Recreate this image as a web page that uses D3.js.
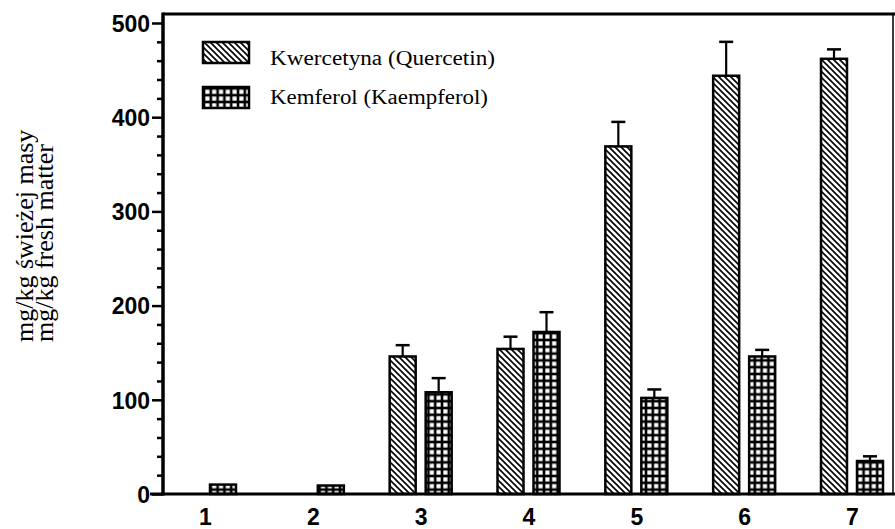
<!DOCTYPE html>
<html><head><meta charset="utf-8">
<script src="https://cdn.jsdelivr.net/npm/d3@7"></script>
<style>body{margin:0;background:#fff}svg{display:block}</style>
</head><body>
<svg id="c" width="895" height="529"></svg>
<script>
const categories = ["1","2","3","4","5","6","7"];
const quercetin = [0, 0, 146, 154, 369, 444, 462];
const quercetinErr = [0, 0, 12, 13, 26, 36, 10];
const kaempferol = [10, 9, 108, 172, 102, 146, 35];
const kaempferolErr = [0, 0, 15, 21, 9, 7, 5];
const yTicks = [0, 100, 200, 300, 400, 500];
const seriesNames = ["Kwercetyna (Quercetin)", "Kemferol (Kaempferol)"];
const yLabelLines = ["mg/kg świeżej masy", "mg/kg fresh matter"];

(function(){
const svg = d3.select("#c");
const defs = svg.append("defs");
const ph = defs.append("pattern").attr("id","hatch").attr("patternUnits","userSpaceOnUse")
  .attr("width",6).attr("height",6);
ph.append("rect").attr("width",6).attr("height",6).attr("fill","#fff");
ph.append("path").attr("d","M-1,-1 L7,7 M-4,2 L2,8 M4,-2 L10,4").attr("stroke","#000").attr("stroke-width",1.6);
const g = 6.8;
const pg = defs.append("pattern").attr("id","grid").attr("patternUnits","userSpaceOnUse")
  .attr("width",g).attr("height",g);
pg.append("rect").attr("width",g).attr("height",g).attr("fill","#000");
pg.append("rect").attr("x",1.3).attr("y",1.3).attr("width",g-2.6).attr("height",g-2.6).attr("fill","#fff");

const pLeft = 163, pRight = 893, pTop = 14, y0 = 494;
const y = d3.scaleLinear().domain([0,500]).range([y0, 23]);
const x = d3.scalePoint().domain(categories).range([205, 852]);
const barW = 26, gap = 5;

svg.append("line").attr("x1",pLeft).attr("x2",895).attr("y1",pTop).attr("y2",pTop).attr("stroke","#000").attr("stroke-width",3);
svg.append("line").attr("x1",pRight).attr("x2",pRight).attr("y1",pTop).attr("y2",y0).attr("stroke","#000").attr("stroke-width",1.5);

function drawSeries(vals, errs, fill, off) {
  const gg = svg.append("g");
  categories.forEach((c,i) => {
    const v = vals[i];
    if (v <= 0) return;
    const bx = x(c) + off;
    if (errs[i] > 0) {
      const cx = bx + barW/2;
      gg.append("line").attr("x1",cx).attr("x2",cx).attr("y1",y(v)).attr("y2",y(v+errs[i])).attr("stroke","#000").attr("stroke-width",2.2);
      gg.append("line").attr("x1",cx-7).attr("x2",cx+7).attr("y1",y(v+errs[i])).attr("y2",y(v+errs[i])).attr("stroke","#000").attr("stroke-width",2.5);
    }
    gg.append("rect").attr("x",bx).attr("y",y(v)).attr("width",barW).attr("height",y0-y(v))
      .attr("fill",fill).attr("stroke","#000").attr("stroke-width",2.5);
  });
}
drawSeries(quercetin, quercetinErr, "url(#hatch)", -gap-barW);
drawSeries(kaempferol, kaempferolErr, "url(#grid)", gap);

const yAxis = svg.append("g").attr("transform",`translate(${pLeft},0)`)
  .call(d3.axisLeft(y).tickValues(yTicks).tickSize(11).tickPadding(2).tickFormat(d3.format("d")));
yAxis.select(".domain").remove();
yAxis.selectAll(".tick line").attr("stroke-width",2.5);
yAxis.selectAll(".tick text").attr("font-family","'Liberation Sans',Arial,sans-serif").attr("font-weight","bold").attr("font-size",23).attr("fill","#000").attr("dy","0.36em");
const minor = d3.range(0,501,20).filter(v => v % 100 !== 0);
svg.append("g").attr("transform",`translate(${pLeft},0)`)
  .call(d3.axisLeft(y).tickValues(minor).tickSize(6).tickFormat(""))
  .call(s => { s.select(".domain").remove(); s.selectAll(".tick line").attr("stroke-width",2.5); });
svg.append("line").attr("x1",pLeft).attr("x2",pLeft).attr("y1",pTop-1.5).attr("y2",y0+1.5).attr("stroke","#000").attr("stroke-width",3.5);

svg.append("line").attr("x1",150).attr("x2",895).attr("y1",y0).attr("y2",y0).attr("stroke","#000").attr("stroke-width",3);
const xAxis = svg.append("g").attr("transform",`translate(0,${y0})`)
  .call(d3.axisBottom(x).tickSize(0).tickPadding(0));
xAxis.select(".domain").remove();
xAxis.selectAll(".tick text").attr("font-family","'Liberation Sans',Arial,sans-serif").attr("font-weight","bold").attr("font-size",23).attr("fill","#000").attr("dy",null).attr("y",31);

const legend = svg.append("g");
[["url(#hatch)",42,65,225],["url(#grid)",87,104,218]].forEach((d,i) => {
  legend.append("rect").attr("x",203).attr("y",d[1]).attr("width",46).attr("height",21)
    .attr("fill",d[0]).attr("stroke","#000").attr("stroke-width",2.5);
  legend.append("text").attr("x",270).attr("y",d[2]).text(seriesNames[i])
    .attr("font-family","'Liberation Serif','Times New Roman',serif").attr("font-size",20)
    .attr("textLength",d[3]).attr("lengthAdjust","spacingAndGlyphs").attr("fill","#000");
});

const yl = svg.append("g").attr("transform","translate(0,342) rotate(-90)");
[33,53].forEach((by,i) => {
  yl.append("text").attr("x",0).attr("y",by).text(yLabelLines[i])
    .attr("font-family","'Liberation Serif','Times New Roman',serif").attr("font-size",26)
    .attr("fill","#000");
});
})();
</script>
</body></html>
